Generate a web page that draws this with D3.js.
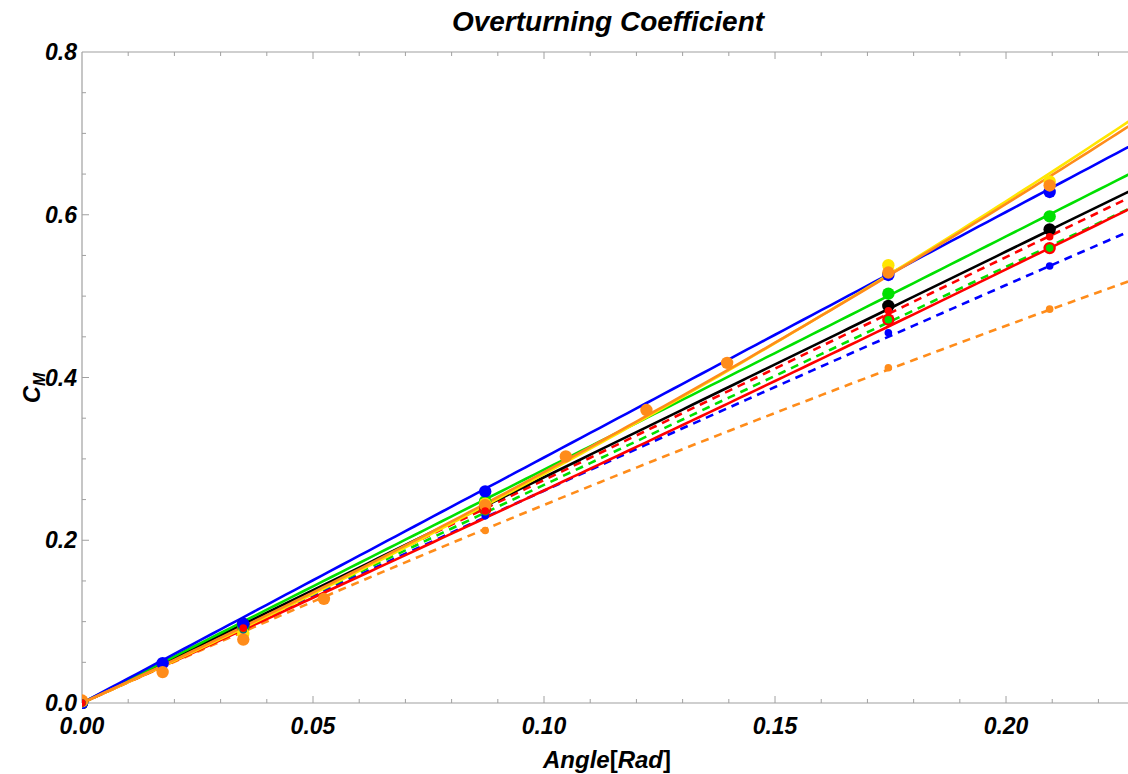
<!DOCTYPE html>
<html>
<head>
<meta charset="utf-8">
<script src="https://cdn.jsdelivr.net/npm/d3@7"></script>
<style>
  body { margin: 0; background: #fff; }
  svg { display: block; font-family: "Liberation Sans", Arial, sans-serif; }
  .tick-label { font-size: 23px; font-weight: bold; font-style: italic; }
</style>
</head>
<body>
<script>
'use strict';

// Data: angle [rad] vs overturning coefficient per case
const blueSolid   = [[0, 0], [0.01745, 0.049], [0.03491, 0.097], [0.08727, 0.260], [0.17453, 0.526], [0.20944, 0.628]];
const orangeSolid = [[0, 0.003], [0.01745, 0.038], [0.03491, 0.078], [0.05236, 0.128], [0.08727, 0.243], [0.10472, 0.303], [0.12217, 0.360], [0.13963, 0.418], [0.17453, 0.529], [0.20944, 0.636]];
const yellowSolid = [[0, 0.002], [0.03491, 0.085], [0.08727, 0.245], [0.17453, 0.538], [0.20944, 0.641]];
const greenSolid  = [[0, 0], [0.03491, 0.094], [0.08727, 0.248], [0.17453, 0.503], [0.20944, 0.598]];
const blackSolid  = [[0, 0], [0.03491, 0.097], [0.08727, 0.243], [0.17453, 0.488], [0.20944, 0.582]];
const redSolid    = [[0, 0], [0.03491, 0.093], [0.08727, 0.238], [0.17453, 0.471], [0.20944, 0.559]];

const redDashed    = [[0, 0], [0.03491, 0.092], [0.08727, 0.236], [0.17453, 0.482], [0.20944, 0.573]];
const greenDashed  = [[0, 0], [0.03491, 0.091], [0.08727, 0.235], [0.17453, 0.471], [0.20944, 0.559]];
const blueDashed   = [[0, 0], [0.03491, 0.090], [0.08727, 0.230], [0.17453, 0.455], [0.20944, 0.537]];
const orangeDashed = [[0, 0], [0.08727, 0.212], [0.17453, 0.412], [0.20944, 0.484]];

// Fit coefficients: C_M = a*x + b*x^2
const fitCoeffs = {
  blueSolid: [3.017, 0], orangeSolid: [2.605, 2.31], yellowSolid: [2.545, 2.69],
  greenSolid: [2.867, 0], blackSolid: [2.774, 0], redSolid: [2.56, 0.52],
  redDashed: [2.740, 0], greenDashed: [2.680, 0], blueDashed: [2.65, -0.41],
  orangeDashed: [2.55, -1.16]
};

const xTicks = [0, 0.05, 0.10, 0.15, 0.20];
const yTicks = [0, 0.2, 0.4, 0.6, 0.8];

// Series table (drawing order)
const series = [
  { key: 'orangeDashed', data: orangeDashed, color: '#ff8c1a', dashed: true },
  { key: 'blueDashed', data: blueDashed, color: '#0000ff', dashed: true },
  { key: 'greenDashed', data: greenDashed, color: '#00e000', dashed: true },
  { key: 'redDashed', data: redDashed, color: '#ff0000', dashed: true },
  { key: 'redSolid', data: redSolid, color: '#ff0000', dashed: false },
  { key: 'blackSolid', data: blackSolid, color: '#000000', dashed: false },
  { key: 'greenSolid', data: greenSolid, color: '#00e000', dashed: false },
  { key: 'blueSolid', data: blueSolid, color: '#0000ff', dashed: false },
  { key: 'yellowSolid', data: yellowSolid, color: '#ffe600', dashed: false },
  { key: 'orangeSolid', data: orangeSolid, color: '#ff8c1a', dashed: false }
];

const width = 1128, height = 774;
const margin = { top: 52, right: 0, bottom: 71, left: 82 };
const xMax = 0.2264;

const svg = d3.select('body').append('svg')
  .attr('width', width)
  .attr('height', height);

const x = d3.scaleLinear().domain([0, xMax]).range([margin.left, width - margin.right]);
const y = d3.scaleLinear().domain([0, 0.8]).range([height - margin.bottom, margin.top]);

const axisColor = '#a0a0a0';

// Frame + ticks
const frame = svg.append('g');
[[x(0), width, y(0), y(0)], [x(0), width, y(0.8), y(0.8)], [x(0), x(0), y(0), y(0.8)]]
  .forEach(([x1, x2, y1, y2]) => {
    frame.append('line')
      .attr('x1', x1).attr('x2', x2).attr('y1', y1).attr('y2', y2)
      .attr('stroke', axisColor).attr('stroke-width', 1.2);
  });

const xMinor = d3.range(0.01, xMax, 0.01);
const yMinor = d3.range(0.05, 0.79, 0.05);
const isMajorX = v => Math.abs(v * 20 - Math.round(v * 20)) < 1e-6;
const isMajorY = v => Math.abs(v * 5 - Math.round(v * 5)) < 1e-6;

[y(0), y(0.8)].forEach((yy, i) => {
  const dir = i === 0 ? -1 : 1;
  frame.selectAll(null)
    .data(xMinor)
    .enter().append('line')
    .attr('x1', d => x(d)).attr('x2', d => x(d))
    .attr('y1', yy).attr('y2', d => yy + dir * (isMajorX(d) ? 7 : 4))
    .attr('stroke', axisColor).attr('stroke-width', 1);
});

frame.selectAll(null)
  .data(yMinor)
  .enter().append('line')
  .attr('x1', x(0)).attr('x2', d => x(0) + (isMajorY(d) ? 7 : 4))
  .attr('y1', d => y(d)).attr('y2', d => y(d))
  .attr('stroke', axisColor).attr('stroke-width', 1);

// Tick labels
svg.selectAll('.xlab')
  .data(xTicks)
  .enter().append('text')
  .attr('class', 'tick-label')
  .attr('x', d => x(d))
  .attr('y', y(0) + 31)
  .attr('text-anchor', 'middle')
  .text(d => d3.format('.2f')(d));

svg.selectAll('.ylab')
  .data(yTicks)
  .enter().append('text')
  .attr('class', 'tick-label')
  .attr('x', x(0) - 5)
  .attr('y', d => y(d) + 8)
  .attr('text-anchor', 'end')
  .text(d => d3.format('.1f')(d));

// Plot area clip
svg.append('clipPath').attr('id', 'clip')
  .append('rect')
  .attr('x', x(0)).attr('y', y(0.8))
  .attr('width', width - x(0)).attr('height', y(0) - y(0.8) + 6);

const plot = svg.append('g').attr('clip-path', 'url(#clip)');

const line = d3.line().x(d => x(d[0])).y(d => y(d[1]));
const xs = d3.range(0, xMax + 0.002, 0.002);

series.forEach(s => {
  const [a, b] = fitCoeffs[s.key];
  plot.append('path')
    .datum(xs.map(v => [v, a * v + b * v * v]))
    .attr('d', line)
    .attr('fill', 'none')
    .attr('stroke', s.color)
    .attr('stroke-width', 2.6)
    .attr('stroke-dasharray', s.dashed ? '8,6' : null);
});

// Points: large (solid cases) first, small (dashed cases) on top
const pointOrder = series.filter(s => !s.dashed).concat(series.filter(s => s.dashed));
pointOrder.forEach(s => {
  plot.selectAll(null)
    .data(s.data)
    .enter().append('circle')
    .attr('cx', d => x(d[0]))
    .attr('cy', d => y(d[1]))
    .attr('r', s.dashed ? 3.8 : 6.2)
    .attr('fill', s.color);
});

// Title and axis labels
svg.append('text')
  .attr('x', 608).attr('y', 31)
  .attr('text-anchor', 'middle')
  .style('font-size', '28px').style('font-weight', 'bold').style('font-style', 'italic')
  .text('Overturning Coefficient');

const xl = svg.append('text')
  .attr('x', 607).attr('y', 768)
  .attr('text-anchor', 'middle')
  .style('font-size', '24px').style('font-weight', 'bold');
xl.append('tspan').style('font-style', 'italic').text('Angle');
xl.append('tspan').text('[');
xl.append('tspan').style('font-style', 'italic').text('Rad');
xl.append('tspan').text(']');

const yl = svg.append('text')
  .attr('transform', 'translate(40,388) rotate(-90)')
  .attr('text-anchor', 'middle')
  .style('font-size', '24px').style('font-weight', 'bold').style('font-style', 'italic');
yl.append('tspan').text('C');
yl.append('tspan').attr('dy', 5).style('font-size', '16px').text('M');
</script>
</body>
</html>
